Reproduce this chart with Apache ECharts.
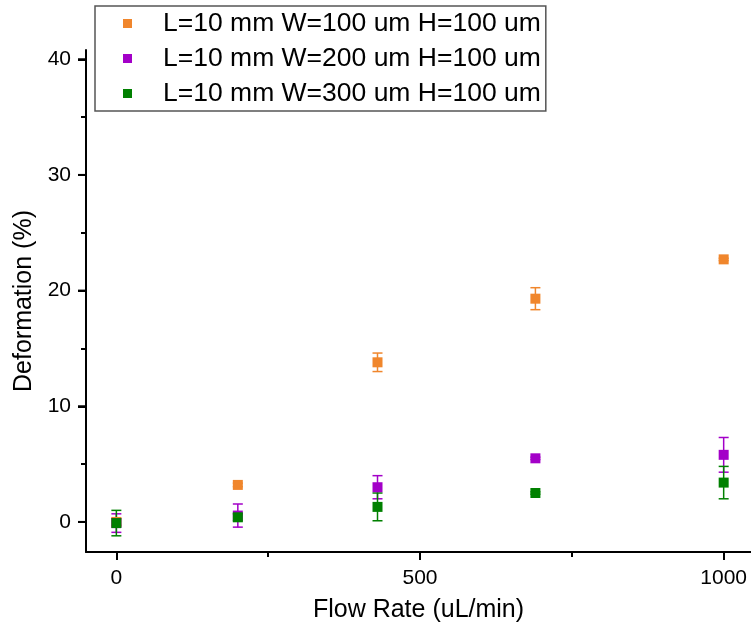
<!DOCTYPE html>
<html>
<head>
<meta charset="utf-8">
<script src="https://cdn.jsdelivr.net/npm/echarts@6/dist/echarts.min.js"></script>
<style>html,body{margin:0;padding:0;background:#fff}#c{width:751px;height:635px}</style>
</head>
<body>
<div id="c"></div>
<script>
var flowRates = [0, 200, 430, 690, 1000];
var seriesNames = ['L=10 mm W=100 um H=100 um', 'L=10 mm W=200 um H=100 um', 'L=10 mm W=300 um H=100 um'];
var orangeVals = [0, 3.2, 13.8, 19.3, 22.7];
var orangeErr  = [0.3, 0.15, 0.8, 0.95, 0.1];
var purpleVals = [-0.1, 0.55, 3.0, 5.5, 5.8];
var purpleErr  = [0.8, 1.0, 1.0, 0.1, 1.5];
var greenVals  = [-0.1, 0.4, 1.3, 2.5, 3.4];
var greenErr   = [1.1, 0.3, 1.2, 0.1, 1.4];
var xMajorTicks = [0, 500, 1000];
var xMinorTicks = [250, 750];
var yMajorTicks = [0, 10, 20, 30, 40];
var yMinorTicks = [5, 15, 25, 35];
var xRange = [-50, 1045];
var yRange = [-2.6, 40.8];
var colors = ['#F0862C', '#A300C8', '#008000'];

var FONT = "'Liberation Sans', Arial, sans-serif";

function pts(vals){ return flowRates.map(function(x,i){ return [x, vals[i]]; }); }
function errs(vals, e){ return flowRates.map(function(x,i){ return [x, vals[i]-e[i], vals[i]+e[i]]; }); }
function plain(v){ return String(v); }

function errRender(color){
  return function(params, api){
    var x = api.value(0), lo = api.value(1), hi = api.value(2);
    var a = api.coord([x, lo]), b = api.coord([x, hi]);
    var w = 5;
    var st = {stroke: color, lineWidth: 1.5};
    return {type:'group', children:[
      {type:'line', shape:{x1:a[0], y1:a[1], x2:b[0], y2:b[1]}, style:st},
      {type:'line', shape:{x1:a[0]-w, y1:a[1], x2:a[0]+w, y2:a[1]}, style:st},
      {type:'line', shape:{x1:b[0]-w, y1:b[1], x2:b[0]+w, y2:b[1]}, style:st}
    ]};
  };
}

var allVals = [orangeVals, purpleVals, greenVals];
var allErr = [orangeErr, purpleErr, greenErr];
var series = [];
for (var i = 0; i < 3; i++) {
  series.push({
    type:'custom', xAxisIndex:0, yAxisIndex:0, silent:true,
    renderItem: errRender(colors[i]),
    data: errs(allVals[i], allErr[i]), z:2
  });
  series.push({
    type:'scatter', name: seriesNames[i], xAxisIndex:0, yAxisIndex:0,
    symbol:'rect', symbolSize:10,
    itemStyle:{color: colors[i], opacity:1},
    data: pts(allVals[i]), z:3
  });
}
// major y-axis tick marks, placed through the axis scale at the tick values
series.push({
  type:'custom', xAxisIndex:0, yAxisIndex:0, silent:true, clip:false, z:5,
  data: yMajorTicks.map(function(v){ return [xRange[0], v]; }),
  renderItem: function(params, api){
    var c = api.coord([api.value(0), api.value(1)]);
    return {type:'line', shape:{x1:c[0]-8, y1:c[1], x2:c[0], y2:c[1]}, style:{stroke:'#000', lineWidth:2}};
  }
});

function tickAxis(minV, maxV, pos, vals, len){
  return {
    type:'value', min:minV, max:maxV, position:pos,
    axisLine:{show:false, onZero:false},
    axisTick:{show:true, inside:false, length:len, lineStyle:{color:'#000', width:2}, customValues:vals},
    axisLabel:{show:false},
    splitLine:{show:false}
  };
}

var chart = echarts.init(document.getElementById('c'), null, {renderer:'canvas'});
chart.setOption({
  animation:false,
  backgroundColor:'#fff',
  textStyle:{fontFamily:FONT},
  grid:{left:86, right:0, top:50, bottom:83},
  legend:{
    data: seriesNames,
    orient:'vertical', left:95, top:6,
    padding:[4, 5, 4, 28],
    itemGap:8,
    itemWidth:9, itemHeight:9, icon:'rect',
    borderColor:'#555', borderWidth:1.5, backgroundColor:'#fff',
    textStyle:{fontFamily:FONT, fontSize:26.5, color:'#000', lineHeight:26, padding:[0,0,0,26]}
  },
  xAxis:[{
    type:'value', min:xRange[0], max:xRange[1], position:'bottom',
    name:'Flow Rate (uL/min)', nameLocation:'middle', nameGap:46,
    nameTextStyle:{fontFamily:FONT, fontSize:25, color:'#000'},
    axisLine:{show:true, onZero:false, lineStyle:{color:'#000', width:2}},
    axisTick:{show:true, inside:false, length:8, lineStyle:{color:'#000', width:2}, customValues:xMajorTicks},
    axisLabel:{show:true, margin:16, fontFamily:FONT, fontSize:21, color:'#000', customValues:xMajorTicks, formatter:plain},
    splitLine:{show:false}
  },
  tickAxis(xRange[0], xRange[1], 'bottom', xMinorTicks, 5)
  ],
  yAxis:[{
    type:'value', min:yRange[0], max:yRange[1], position:'left',
    name:'Deformation (%)', nameLocation:'middle', nameGap:40,
    nameTextStyle:{fontFamily:FONT, fontSize:25, color:'#000'},
    axisLine:{show:true, onZero:false, lineStyle:{color:'#000', width:2}},
    axisTick:{show:true, inside:false, length:8, lineStyle:{color:'#000', width:2}, customValues:yMajorTicks},
    axisLabel:{show:true, margin:15, fontFamily:FONT, fontSize:21, color:'#000', customValues:yMajorTicks, formatter:plain},
    splitLine:{show:false}
  },
  tickAxis(yRange[0], yRange[1], 'left', yMinorTicks, 5)
  ],
  series: series
});
</script>
</body>
</html>
